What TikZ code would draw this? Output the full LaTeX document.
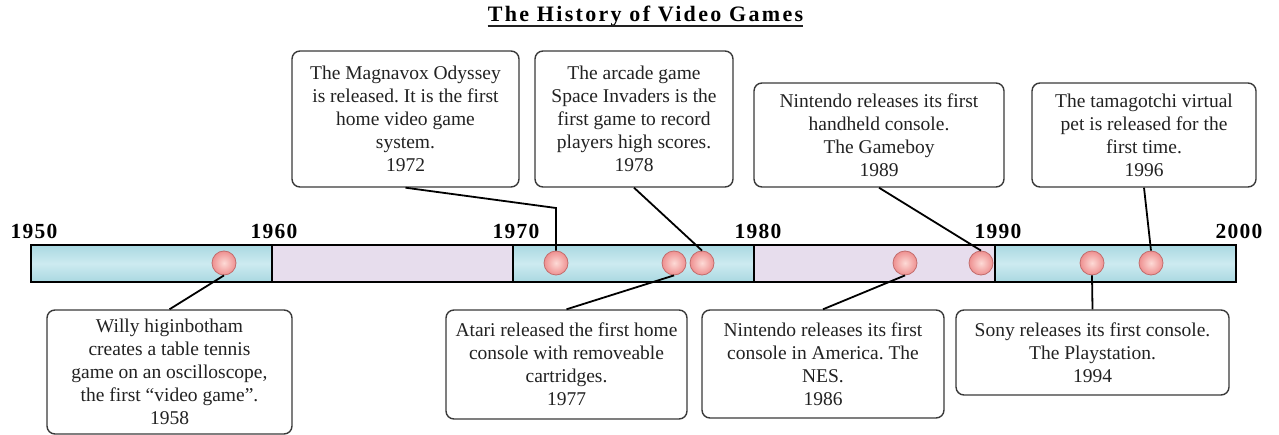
\documentclass[tikz,border=0pt]{standalone}
\usepackage{fontspec}
\setmainfont{Liberation Serif}
\newfontfamily\titlefont{Liberation Serif}[LetterSpace=10.5]
\newfontfamily\yearfont{Liberation Serif}[LetterSpace=6]
\definecolor{boxgray}{HTML}{3A3A3A}
\definecolor{textgray}{HTML}{222222}
\definecolor{blueA}{HTML}{A9D8E1}
\definecolor{blueB}{HTML}{CDEBF0}
\definecolor{purp}{HTML}{E7DDED}
\definecolor{dotin}{HTML}{FDDAD6}
\definecolor{dotout}{HTML}{EE9090}
\definecolor{dotborder}{HTML}{C26C6C}
\frenchspacing
\begin{document}
\begin{tikzpicture}[x=1pt,y=-1pt,
  box/.style={draw=boxgray, line width=1.4pt, rounded corners=8pt, fill=white,
    align=center, inner sep=0pt, text=textgray, font=\fontsize{19.5}{23}\selectfont},
  conn/.style={draw=black, line width=1.8pt},
  dot/.style={circle, minimum size=24pt, inner sep=0pt, draw=dotborder,
    line width=0.8pt, inner color=dotin, outer color=dotout},
  yearlab/.style={anchor=base, inner sep=0pt, text=black,
    font=\yearfont\bfseries\fontsize{21.5}{24}\selectfont},
  bluebar/.style={draw=black, line width=1.8pt, top color=blueA, bottom color=blueA, middle color=blueB},
  purpbar/.style={draw=black, line width=1.8pt, fill=purp},
]
\useasboundingbox (0,0) rectangle (1279,435);

% title
\node[anchor=base, inner sep=0pt, text=black,
  font=\titlefont\bfseries\fontsize{22}{24}\selectfont] (title) at (645.5,21.5) {The History of Video Games};
\draw[line width=1.5pt, textgray] ([yshift=-4.5pt]title.base west) -- ([yshift=-4.5pt]title.base east);

% bar
\draw[bluebar] (31,245) rectangle (272,282);
\draw[purpbar] (272,245) rectangle (513,282);
\draw[bluebar] (513,245) rectangle (754,282);
\draw[purpbar] (754,245) rectangle (995,282);
\draw[bluebar] (995,245) rectangle (1236,282);

% year labels
\node[yearlab] (y1950) at (34,239) {1950};
\node[yearlab] (y1960) at (274,239) {1960};
\node[yearlab] (y1970) at (516,239) {1970};
\node[yearlab] (y1980) at (758,239) {1980};
\node[yearlab] (y1990) at (998,239) {1990};
\node[yearlab] (y2000) at (1239,239) {2000};

% dots
\node[dot] (c1958) at (224,263) {};
\node[dot] (c1972) at (556,263) {};
\node[dot] (c1977) at (674,263) {};
\node[dot] (c1978) at (702,263) {};
\node[dot] (c1986) at (905,263) {};
\node[dot] (c1989) at (981,263) {};
\node[dot] (c1994) at (1092,263) {};
\node[dot] (c1996) at (1151,263) {};

% boxes
\node[box, minimum width=227pt, minimum height=136pt] (b1972) at (405.5,119)
  {The Magnavox Odyssey\\is released. It is the first\\home video game\\system.\\1972};
\node[box, minimum width=198pt, minimum height=136pt] (b1978) at (634,119)
  {The arcade game\\Space Invaders is the\\first game to record\\players high scores.\\1978};
\node[box, minimum width=250pt, minimum height=104pt] (b1989) at (879,135)
  {Nintendo releases its first\\handheld console.\\The Gameboy\\1989};
\node[box, minimum width=224pt, minimum height=104pt] (b1996) at (1144,135)
  {The tamagotchi virtual\\pet is released for the\\first time.\\1996};
\node[box, minimum width=245pt, minimum height=124pt] (b1958) at (169.5,372)
  {Willy higinbotham\\creates a table tennis\\game on an oscilloscope,\\the first “video game”.\\1958};
\node[box, minimum width=241pt, minimum height=109pt] (b1977) at (566.5,364.5)
  {Atari released the first home\\console with removeable\\cartridges.\\1977};
\node[box, minimum width=242pt, minimum height=108pt] (b1986) at (823,364)
  {Nintendo releases its first\\console in America. The\\NES.\\1986};
\node[box, minimum width=273pt, minimum height=85pt] (b1994) at (1092.5,352.5)
  {Sony releases its first console.\\The Playstation.\\1994};

% connectors
\coordinate (k1972) at (556,208);
\draw[conn] (b1972.south) -- (k1972) -- (c1972.north);
\draw[conn] (b1978.south) -- (c1978.north);
\draw[conn] (b1989.south) -- (c1989.north);
\draw[conn] (b1996.south) -- (c1996.north);
\draw[conn] (b1958.north) -- (c1958.south);
\draw[conn] (b1977.north) -- (c1977.south);
\draw[conn] (b1986.north) -- (c1986.south);
\draw[conn] (b1994.north) -- (c1994.south);
\end{tikzpicture}
\end{document}
